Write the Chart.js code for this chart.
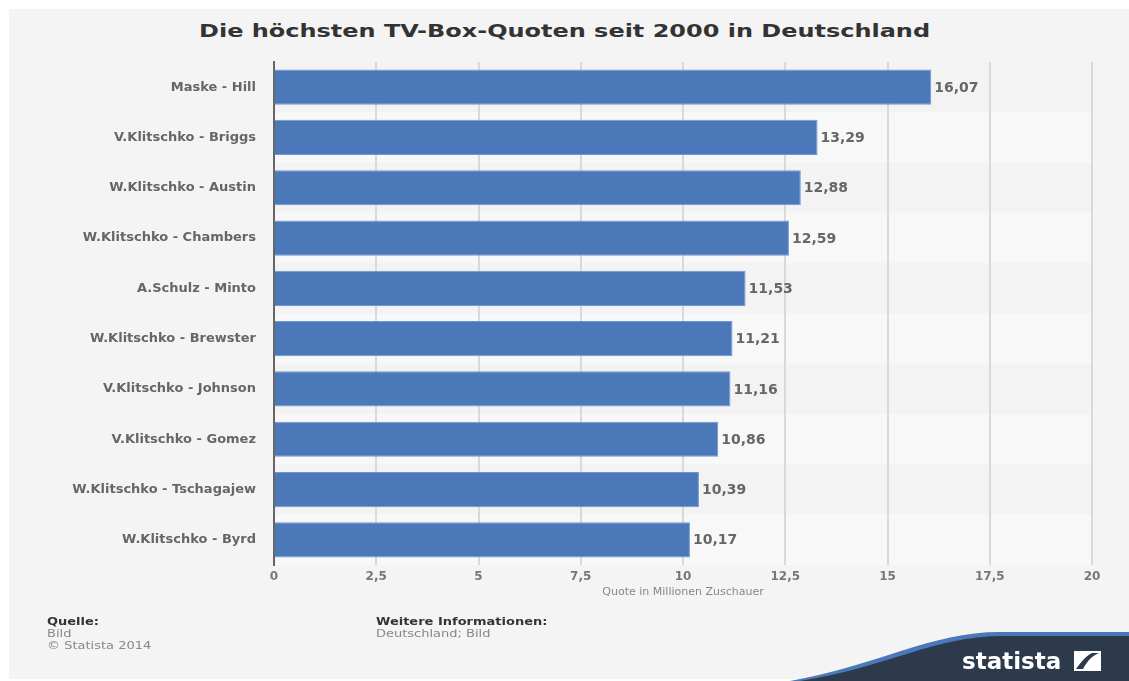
<!DOCTYPE html>
<html lang="de">
<head>
<meta charset="utf-8">
<title>Die höchsten TV-Box-Quoten seit 2000 in Deutschland</title>
<script src="https://cdn.jsdelivr.net/npm/chart.js@4/dist/chart.umd.min.js"></script>
<style>
    html, body { margin: 0; padding: 0; background: #ffffff; }
    body { width: 1129px; height: 681px; position: relative; overflow: hidden; font-family: "DejaVu Sans", Verdana, sans-serif; }
    #panel { position: absolute; left: 9px; top: 9px; width: 1120px; height: 670px; background: #f4f4f4; }
    #chartBox { position: absolute; left: 0; top: 0; width: 1129px; height: 681px; }
    #title { position: absolute; top: 20px; left: 0; width: 1129px; text-align: center; font-weight: bold; font-size: 18px; color: #333333; white-space: nowrap; }
    #title span { display: inline-block; transform-origin: center; }
    .foot { position: absolute; font-size: 10px; line-height: 12px; color: #888888; white-space: nowrap; transform: scaleX(1.3); transform-origin: left top; }
    .foot b { color: #333333; }
    #logo { position: absolute; left: 0; top: 0; }
</style>
</head>
<body>
<div id="panel"></div>
<div id="title"><span id="titleText">Die höchsten TV-Box-Quoten seit 2000 in Deutschland</span></div>
<div id="chartBox"><canvas id="boxChart"></canvas></div>
<div class="foot" style="left:47px; top:616px;"><b>Quelle:</b><br>Bild<br>© Statista 2014</div>
<div class="foot" style="left:376px; top:616px;"><b>Weitere Informationen:</b><br>Deutschland; Bild</div>
<svg id="logo" width="1129" height="681" viewBox="0 0 1129 681">
    <path d="M790 681 C 880 665, 930 632, 1000 632 L 1129 632 L 1129 681 Z" fill="#4a78b9"/>
    <path d="M800 681 C 885 668, 935 636, 1002 636 L 1129 636 L 1129 681 Z" fill="#2c3a4b"/>
    <text x="962" y="669" font-family="DejaVu Sans, sans-serif" font-weight="bold" font-size="23" fill="#ffffff">statista</text>
    <rect x="1074" y="651" width="27" height="20" fill="#ffffff"/>
    <path d="M1076 669 L1083 669 C 1088 660, 1092 656, 1099 653 L1099 653 L1092 653 C 1086 656, 1081 662, 1076 669 Z" fill="#2c3a4b"/>
</svg>
<script>
// Daten (Millionen Zuschauer)
const fights = [
    'Maske - Hill',
    'V.Klitschko - Briggs',
    'W.Klitschko - Austin',
    'W.Klitschko - Chambers',
    'A.Schulz - Minto',
    'W.Klitschko - Brewster',
    'V.Klitschko - Johnson',
    'V.Klitschko - Gomez',
    'W.Klitschko - Tschagajew',
    'W.Klitschko - Byrd'
];
const viewers = [16.07, 13.29, 12.88, 12.59, 11.53, 11.21, 11.16, 10.86, 10.39, 10.17];
const xTicks = [0, 2.5, 5, 7.5, 10, 12.5, 15, 17.5, 20];

const formatDe = (v) => v.toString().replace('.', ',');

// stretch the title to the width it has in the original
const titleSpan = document.getElementById('titleText');
titleSpan.style.transform = 'scaleX(' + (731 / titleSpan.getBoundingClientRect().width) + ')';

// alternating row bands, drawn before the grid
const rowBands = {
    id: 'rowBands',
    beforeDraw(chart) {
        const { ctx, chartArea, scales: { y } } = chart;
        const step = (y.getPixelForValue(1) - y.getPixelForValue(0));
        ctx.save();
        fights.forEach((_, i) => {
            const mid = y.getPixelForValue(i);
            ctx.fillStyle = i % 2 === 0 ? '#f3f3f3' : '#f8f8f8';
            ctx.fillRect(chartArea.left, mid - step / 2, chartArea.right - chartArea.left, step);
        });
        ctx.restore();
    }
};

const valueLabels = {
    id: 'valueLabels',
    afterDatasetsDraw(chart) {
        const { ctx } = chart;
        const meta = chart.getDatasetMeta(0);
        ctx.save();
        ctx.font = 'bold 14px "DejaVu Sans", sans-serif';
        ctx.fillStyle = '#666666';
        ctx.textAlign = 'left';
        ctx.textBaseline = 'middle';
        meta.data.forEach((bar, i) => {
            ctx.fillText(formatDe(viewers[i]), bar.x + 3, bar.y + 1);
        });
        ctx.restore();
    }
};

new Chart(document.getElementById('boxChart').getContext('2d'), {
    type: 'bar',
    data: {
        labels: fights,
        datasets: [{
            data: viewers,
            backgroundColor: '#4a78b9',
            borderColor: '#6f98d0',
            borderWidth: 1,
            borderSkipped: 'left',
            categoryPercentage: 1,
            barPercentage: 0.7
        }]
    },
    options: {
        indexAxis: 'y',
        responsive: true,
        maintainAspectRatio: false,
        animation: false,
        layout: { padding: { top: 62, right: 37, bottom: 78, left: 0 } },
        plugins: {
            legend: { display: false },
            tooltip: { enabled: false }
        },
        scales: {
            x: {
                min: 0,
                max: 20,
                afterBuildTicks: (scale) => { scale.ticks = xTicks.map(v => ({ value: v })); },
                afterFit: (scale) => { scale.height = 38; },
                grid: { color: '#d9d9d9', lineWidth: 2, drawTicks: false },
                border: { display: false },
                ticks: {
                    padding: 5,
                    color: '#777777',
                    font: { family: '"DejaVu Sans", sans-serif', size: 12, weight: 'bold' },
                    callback: (v) => formatDe(v)
                },
                title: {
                    display: true,
                    text: 'Quote in Millionen Zuschauer',
                    color: '#888888',
                    font: { family: '"DejaVu Sans", sans-serif', size: 11 },
                    padding: { top: 2, bottom: 4 }
                }
            },
            y: {
                afterFit: (scale) => { scale.width = 274; },
                grid: { display: false, drawTicks: false },
                border: { display: true, color: '#666666', width: 2 },
                ticks: {
                    padding: 18,
                    color: '#666666',
                    font: { family: '"DejaVu Sans", sans-serif', size: 13, weight: 'bold' }
                }
            }
        }
    },
    plugins: [rowBands, valueLabels]
});
</script>
</body>
</html>
